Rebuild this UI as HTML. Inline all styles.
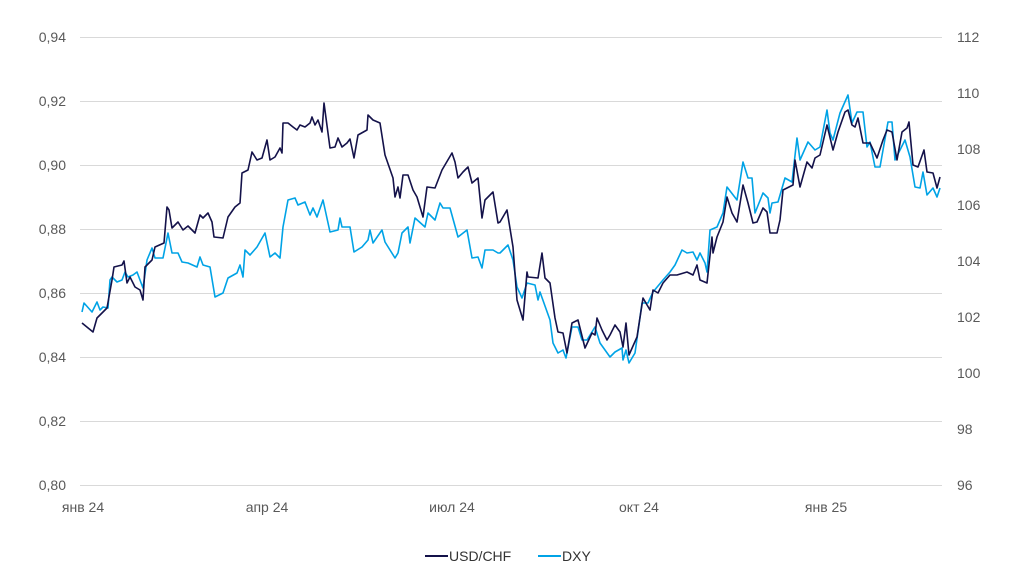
<!DOCTYPE html>
<html><head><meta charset="utf-8"><style>
html,body{margin:0;padding:0;background:#fff;}
svg{display:block;font-family:"Liberation Sans",sans-serif;}
</style></head><body>
<svg width="1024" height="577" viewBox="0 0 1024 577">
<g stroke="#d9d9d9" stroke-width="1">
<line x1="80" y1="37.5" x2="942" y2="37.5"/><line x1="80" y1="101.5" x2="942" y2="101.5"/>
<line x1="80" y1="165.5" x2="942" y2="165.5"/><line x1="80" y1="229.5" x2="942" y2="229.5"/>
<line x1="80" y1="293.5" x2="942" y2="293.5"/><line x1="80" y1="357.5" x2="942" y2="357.5"/>
<line x1="80" y1="421.5" x2="942" y2="421.5"/><line x1="80" y1="485.5" x2="942" y2="485.5"/>
</g>
<g fill="#595959" font-size="14" text-anchor="end">
<text x="66" y="42">0,94</text><text x="66" y="106">0,92</text><text x="66" y="170">0,90</text>
<text x="66" y="234">0,88</text><text x="66" y="298">0,86</text><text x="66" y="362">0,84</text>
<text x="66" y="426">0,82</text><text x="66" y="490">0,80</text>
</g>
<g fill="#595959" font-size="14" text-anchor="start">
<text x="957" y="42">112</text><text x="957" y="98">110</text><text x="957" y="154">108</text>
<text x="957" y="210">106</text><text x="957" y="266">104</text><text x="957" y="322">102</text>
<text x="957" y="378">100</text><text x="957" y="434">98</text><text x="957" y="490">96</text>
</g>
<g fill="#595959" font-size="14" text-anchor="middle">
<text x="83" y="512">янв 24</text><text x="267" y="512">апр 24</text><text x="452" y="512">июл 24</text>
<text x="639" y="512">окт 24</text><text x="826" y="512">янв 25</text>
</g>
<polyline fill="none" stroke="#00a3e6" stroke-width="1.6" stroke-linejoin="round" points="82,312 84,303 92,312 97,302 100,310 103,307 108,308 110,280 112,277 117,282 122,280 125,272 128,277 133,275 137,272 143,288 147,260 152,248 155,258 163,258 168,233 172,253 178,253 182,262 188,263 197,267 200,257 203,265 210,267 215,297 223,293 228,278 237,273 240,265 243,277 245,250 250,255 257,247 265,233 270,257 275,253 280,258 283,227 288,200 295,198 298,205 305,202 310,215 313,208 317,217 323,200 330,232 338,230 340,218 342,227 350,227 354,252 362,247 368,240 370,230 373,243 382,230 385,242 395,258 398,253 402,233 408,227 410,243 415,218 425,227 428,213 435,220 440,203 443,208 450,208 458,237 467,230 472,258 478,257 482,268 485,250 493,250 498,253 500,253 508,245 513,260 517,287 522,298 527,283 535,285 538,300 540,292 550,320 553,343 558,353 563,350 566,358 572,327 578,327 582,340 587,340 595,327 600,343 610,357 615,352 622,348 623,360 626,350 629,363 635,353 642,303 648,303 653,292 663,280 670,272 675,265 682,250 687,253 693,252 697,260 700,253 705,263 707,272 710,230 717,227 723,213 727,187 737,200 743,162 748,178 752,178 755,213 763,193 768,198 770,213 772,203 778,202 785,178 792,182 797,138 800,160 808,142 815,150 820,147 827,110 830,133 833,140 840,113 848,95 852,123 857,112 863,112 867,147 870,142 875,167 880,167 888,122 892,122 895,160 900,150 905,140 910,157 915,187 920,188 923,172 927,195 933,188 937,197 940,188"/>
<polyline fill="none" stroke="#14124a" stroke-width="1.6" stroke-linejoin="round" points="82,323 93,332 97,318 107,308 112,280 114,267 122,265 124,261 127,283 130,277 135,287 140,290 143,300 145,267 152,260 155,247 164,243 167,207 169,210 172,228 178,222 183,230 188,226 195,233 200,215 203,218 208,213 212,222 214,237 223,238 228,217 235,207 240,203 242,173 248,170 252,152 257,160 262,158 267,140 270,160 275,157 280,148 282,153 283,123 288,123 293,127 297,130 300,125 305,127 310,123 312,117 315,125 318,120 322,132 324,103 330,148 335,147 338,138 342,147 347,143 350,139 354,158 358,135 367,130 368,115 373,120 380,123 385,155 393,178 395,197 398,187 400,198 403,175 408,175 413,190 417,197 423,217 427,187 435,188 442,170 452,153 455,162 458,178 463,172 468,167 472,183 478,178 482,218 485,200 493,192 498,223 500,222 507,210 513,247 517,300 523,320 527,272 528,277 538,278 542,253 545,278 550,283 555,318 558,332 563,333 567,353 572,323 578,320 585,348 592,333 595,335 597,318 602,330 607,340 610,335 615,325 620,332 623,347 626,323 629,355 637,337 643,298 650,310 653,290 658,293 663,283 670,275 677,275 687,272 693,275 697,265 700,280 707,283 712,237 713,253 717,237 723,222 727,197 732,213 737,222 743,185 748,203 753,223 757,222 763,208 767,212 770,233 777,233 780,220 783,190 793,185 795,160 800,187 807,162 812,168 815,158 820,155 827,125 833,150 838,132 845,112 848,110 852,125 855,127 858,118 863,143 870,143 877,158 883,140 887,130 892,132 897,160 902,132 907,128 909,122 913,165 918,167 924,150 927,172 933,173 937,188 940,177"/>
<g font-size="14" fill="#333">
<line x1="425" y1="556" x2="448" y2="556" stroke="#14124a" stroke-width="2"/>
<text x="449" y="561">USD/CHF</text>
<line x1="538" y1="556" x2="561" y2="556" stroke="#00a3e6" stroke-width="2"/>
<text x="562" y="561">DXY</text>
</g>
</svg>
</body></html>
